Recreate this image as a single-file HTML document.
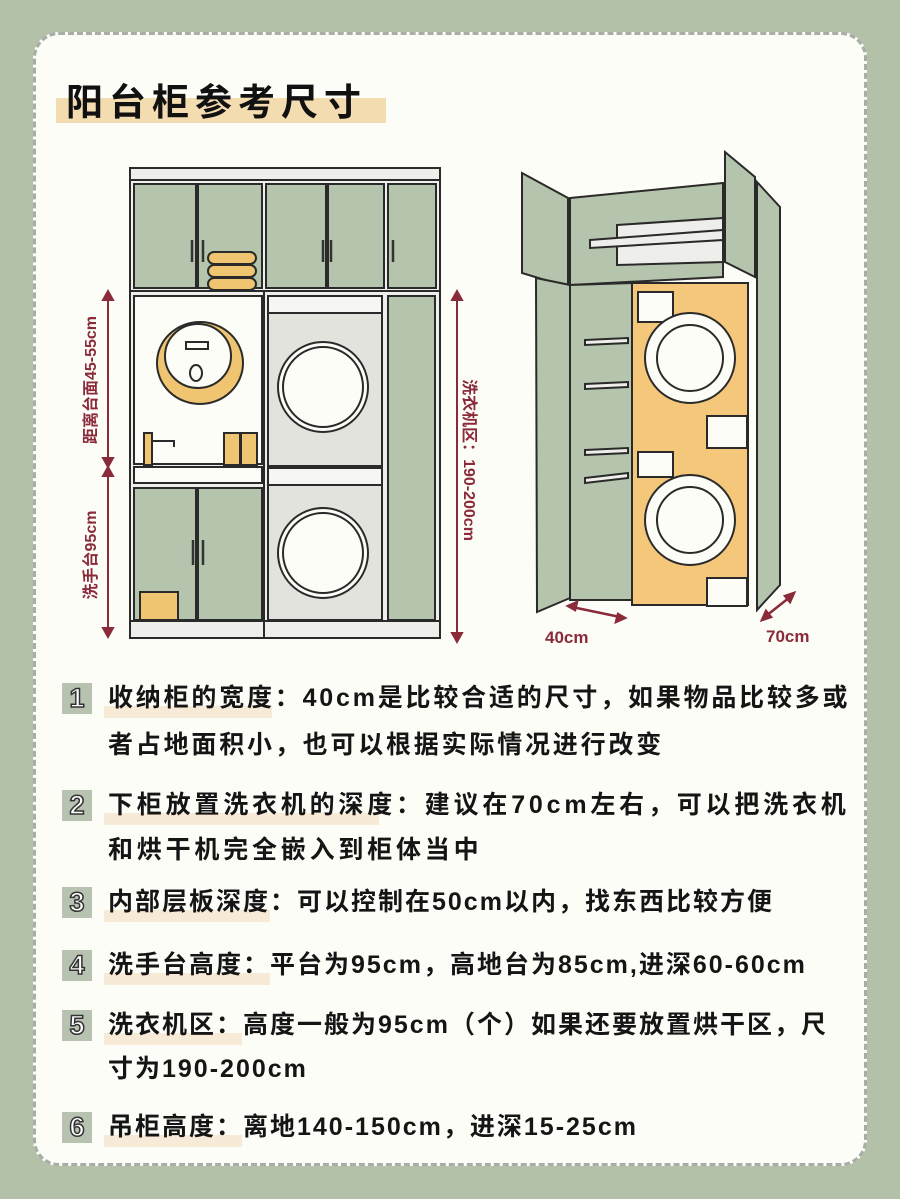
<!DOCTYPE html>
<html><head><meta charset="utf-8"><style>
body{margin:0;width:900px;height:1199px;background:#b3c1a9;position:relative;overflow:hidden;font-family:"Liberation Sans","Noto Sans CJK SC",sans-serif}
.card{position:absolute;left:33px;top:32px;width:834px;height:1134px;background:#fdfdf8;border:3px dashed #a8ada6;border-radius:26px;box-sizing:border-box}
.title{position:absolute;left:66px;top:72px;font-size:37px;font-weight:bold;letter-spacing:6px;color:#111;z-index:2}
.tbar{position:absolute;left:56px;top:98px;width:330px;height:25px;background:#f3dcb0}
.row{position:absolute;left:108px;font-size:25px;font-weight:bold;letter-spacing:4px;color:#151515;white-space:nowrap;line-height:30px}
.hl{position:absolute;left:104px;height:12px;background:#f7ead6}
.badge{position:absolute;left:62px;width:30px;height:31px;background:#b7c2b0;color:#fff;font-size:27px;font-weight:bold;text-align:center;line-height:31px;-webkit-text-stroke:1.5px #333;font-family:"Liberation Sans",sans-serif}
</style></head><body>
<div class="card"></div>
<div class="tbar"></div>
<div class="title">阳台柜参考尺寸</div>

<svg width="900" height="660" style="position:absolute;left:0;top:0" font-family="Liberation Sans, Noto Sans CJK SC, sans-serif">
<g stroke="#2a2a2a" stroke-width="2">
<rect x="130" y="168" width="310" height="470" fill="#eeeeea"/>
<rect x="130" y="168" width="310" height="12" fill="#eeeeea"/>
<g fill="#b5c4ac">
<rect x="134" y="184" width="62" height="104"/><rect x="198" y="184" width="64" height="104"/>
<rect x="266" y="184" width="60" height="104"/><rect x="328" y="184" width="56" height="104"/><rect x="388" y="184" width="48" height="104"/>
</g>
<line x1="130" y1="291" x2="440" y2="291"/>
<rect x="134" y="296" width="128" height="168" fill="#fdfdf8"/>
<ellipse cx="200" cy="363" rx="43" ry="41" fill="#f0c572"/>
<ellipse cx="198" cy="356" rx="33" ry="32" fill="#fdfdf8"/>
<rect x="186" y="342" width="22" height="7" fill="#fdfdf8"/>
<ellipse cx="196" cy="373" rx="6" ry="8" fill="#fdfdf8"/>
<rect x="144" y="433" width="8" height="32" fill="#f0c572"/><path d="M152 441 h22 v6" fill="none"/>
<rect x="224" y="433" width="16" height="32" fill="#f0c572"/><rect x="241" y="433" width="16" height="32" fill="#f0c572"/>
<rect x="134" y="467" width="128" height="16" fill="#fdfdf8"/>
<rect x="134" y="488" width="62" height="132" fill="#b5c4ac"/><rect x="198" y="488" width="64" height="132" fill="#b5c4ac"/>
<rect x="140" y="592" width="38" height="28" fill="#f0c572"/>
<rect x="268" y="296" width="114" height="170" fill="#e3e3de"/>
<rect x="268" y="296" width="114" height="17" fill="#f6f6f2"/>
<circle cx="323" cy="387" r="45" fill="#fdfdf8"/><circle cx="323" cy="387" r="40" fill="#fdfdf8"/>
<rect x="268" y="468" width="114" height="152" fill="#e3e3de"/>
<rect x="268" y="468" width="114" height="17" fill="#f6f6f2"/>
<circle cx="323" cy="553" r="45" fill="#fdfdf8"/><circle cx="323" cy="553" r="40" fill="#fdfdf8"/>
<rect x="388" y="296" width="47" height="324" fill="#b5c4ac"/>
<line x1="130" y1="621" x2="440" y2="621"/>
<line x1="264" y1="291" x2="264" y2="638"/>
</g>
<g stroke="#333" stroke-width="2.5">
<line x1="192" y1="240" x2="192" y2="262"/><line x1="203" y1="240" x2="203" y2="262"/>
<line x1="323" y1="240" x2="323" y2="262"/><line x1="331" y1="240" x2="331" y2="262"/><line x1="393" y1="240" x2="393" y2="262"/>
<line x1="193" y1="540" x2="193" y2="565"/><line x1="203" y1="540" x2="203" y2="565"/>
</g>
<g fill="#f0c572" stroke="#2a2a2a" stroke-width="2">
<rect x="208" y="252" width="48" height="12" rx="6"/><rect x="208" y="265" width="48" height="12" rx="6"/><rect x="208" y="278" width="48" height="12" rx="6"/>
</g>
<g stroke="#8a2b3a" stroke-width="2" fill="#8a2b3a">
<line x1="108" y1="298" x2="108" y2="460"/><path d="M103 300 L108 291 L113 300Z"/><path d="M103 458 L108 467 L113 458Z"/>
<line x1="108" y1="474" x2="108" y2="630"/><path d="M103 476 L108 467 L113 476Z"/><path d="M103 628 L108 637 L113 628Z"/>
<line x1="457" y1="298" x2="457" y2="635"/><path d="M452 300 L457 291 L462 300Z"/><path d="M452 633 L457 642 L462 633Z"/>
</g>
<g fill="#8a2b3a" font-size="16" font-weight="bold">
<text transform="translate(96,380) rotate(-90)" text-anchor="middle">距离台面45-55cm</text>
<text transform="translate(96,555) rotate(-90)" text-anchor="middle">洗手台95cm</text>
<text transform="translate(464,460) rotate(90)" text-anchor="middle">洗衣机区：190-200cm</text>
</g>
<g stroke="#2a2a2a" stroke-width="2">
<polygon points="570,198 723,183 723,277 570,285" fill="#b5c4ac"/>
<polygon points="617,225 723,218 723,262 617,265" fill="#eeeeea"/>
<polygon points="590,240 723,230 723,240 590,248" fill="#eeeeea"/>
<polygon points="522,173 568,198 568,287 522,273" fill="#b5c4ac"/>
<polygon points="725,152 755,177 755,277 725,262" fill="#b5c4ac"/>
<polygon points="757,182 780,207 780,585 757,610" fill="#b5c4ac"/>
<polygon points="570,285 632,283 632,600 570,600" fill="#b5c4ac"/>
<polygon points="536,278 570,285 570,598 537,612" fill="#b5c4ac"/>
<rect x="632" y="283" width="116" height="322" fill="#f4c77a"/>
<rect x="638" y="292" width="35" height="30" fill="#fdfdf8"/>
<rect x="638" y="452" width="35" height="25" fill="#fdfdf8"/>
<rect x="707" y="416" width="40" height="32" fill="#fdfdf8"/>
<rect x="707" y="578" width="40" height="28" fill="#fdfdf8"/>
<circle cx="690" cy="358" r="45" fill="#fdfdf8"/><circle cx="690" cy="358" r="33" fill="#fdfdf8"/>
<circle cx="690" cy="520" r="45" fill="#fdfdf8"/><circle cx="690" cy="520" r="33" fill="#fdfdf8"/>
<g fill="#eeeeea"><polygon points="585,340 628,338 628,343 585,345"/><polygon points="585,384 628,382 628,387 585,389"/><polygon points="585,450 628,448 628,453 585,455"/><polygon points="585,478 628,473 628,478 585,483"/></g>
</g>
<g stroke="#8a2b3a" stroke-width="2.5" fill="#8a2b3a">
<line x1="572" y1="607" x2="620" y2="617"/><path d="M568 606 l9 -4 l-2 8z"/><path d="M625 618 l-9 4 l2 -8z"/>
<line x1="766" y1="616" x2="790" y2="597"/><path d="M762 620 l4 -9 l5 6z"/><path d="M794 593 l-4 9 l-5 -6z"/>
</g>
<g fill="#8a2b3a" font-size="17" font-weight="bold">
<text x="545" y="643">40cm</text><text x="766" y="642">70cm</text>
</g>
</svg>

<div class="hl" style="top:706px;width:168px"></div>
<div class="hl" style="top:813px;width:275px"></div>
<div class="hl" style="top:910px;width:166px"></div>
<div class="hl" style="top:973px;width:166px"></div>
<div class="hl" style="top:1033px;width:138px"></div>
<div class="hl" style="top:1135px;width:138px"></div>

<div class="badge" style="top:683px">1</div>
<div class="badge" style="top:790px">2</div>
<div class="badge" style="top:887px">3</div>
<div class="badge" style="top:950px">4</div>
<div class="badge" style="top:1010px">5</div>
<div class="badge" style="top:1112px">6</div>

<div class="row" style="top:683px;letter-spacing:2.8px">收纳柜的宽度：40cm是比较合适的尺寸，如果物品比较多或</div>
<div class="row" style="top:730px;letter-spacing:2.8px">者占地面积小，也可以根据实际情况进行改变</div>
<div class="row" style="top:790px;letter-spacing:3.8px">下柜放置洗衣机的深度：建议在70cm左右，可以把洗衣机</div>
<div class="row" style="top:835px;letter-spacing:3.8px">和烘干机完全嵌入到柜体当中</div>
<div class="row" style="top:887px;letter-spacing:2px">内部层板深度：可以控制在50cm以内，找东西比较方便</div>
<div class="row" style="top:950px;letter-spacing:2px">洗手台高度：平台为95cm，高地台为85cm,进深60-60cm</div>
<div class="row" style="top:1010px;letter-spacing:2px">洗衣机区：高度一般为95cm（个）如果还要放置烘干区，尺</div>
<div class="row" style="top:1054px;letter-spacing:2px">寸为190-200cm</div>
<div class="row" style="top:1112px;letter-spacing:2px">吊柜高度：离地140-150cm，进深15-25cm</div>
</body></html>
